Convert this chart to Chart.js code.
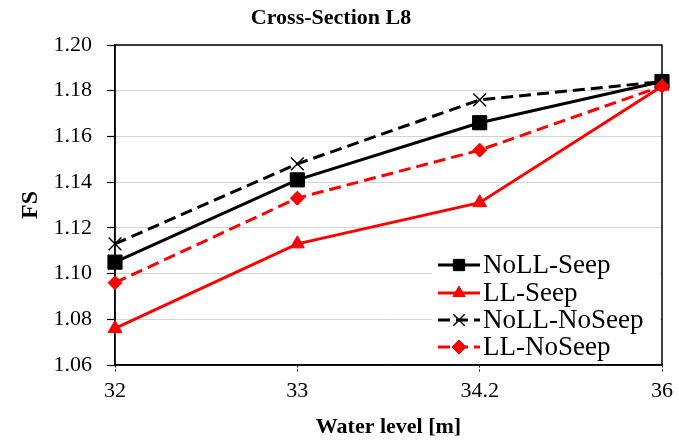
<!DOCTYPE html>
<html>
<head>
<meta charset="utf-8">
<script src="https://cdn.jsdelivr.net/npm/chart.js@4/dist/chart.umd.min.js"></script>
<style>
  html, body { margin: 0; padding: 0; background: #fff; }
  #wrap { width: 679px; height: 446px; }
</style>
</head>
<body>
<div id="wrap"><canvas id="c" width="679" height="446"></canvas></div>
<script>
const categories = ['32', '33', '34.2', '36'];
const noLLSeep = [1.105, 1.141, 1.166, 1.184];
const llSeep = [1.076, 1.113, 1.131, 1.182];
const noLLNoSeep = [1.113, 1.148, 1.176, 1.184];
const llNoSeep = [1.096, 1.133, 1.154, 1.182];
const seriesNames = ['NoLL-Seep', 'LL-Seep', 'NoLL-NoSeep', 'LL-NoSeep'];
const yTicks = [1.06, 1.08, 1.10, 1.12, 1.14, 1.16, 1.18, 1.20];

const FONT = '"Liberation Serif", "Times New Roman", serif';

const framePlugin = {
  id: 'frame',
  beforeDatasetsDraw(chart) {
    const {ctx, chartArea: a} = chart;
    ctx.save();
    ctx.strokeStyle = '#000';
    ctx.lineWidth = 1.5;
    ctx.strokeRect(a.left, a.top, a.right - a.left, a.bottom - a.top);
    ctx.restore();
  }
};

const legendPlugin = {
  id: 'insideLegend',
  afterDraw(chart) {
    const {ctx} = chart;
    const ds = chart.data.datasets;
    const boxL = 432, boxT = 250, boxR = 660, boxB = 362;
    ctx.save();
    ctx.fillStyle = '#fff';
    ctx.fillRect(boxL, boxT, boxR - boxL, boxB - boxT);
    const rowsY = [265, 293, 320, 347];
    const x0 = 438, x1 = 480;
    ds.forEach((d, i) => {
      const y = rowsY[i];
      ctx.save();
      ctx.strokeStyle = d.borderColor;
      ctx.lineWidth = d.borderWidth;
      ctx.setLineDash(d.borderDash || []);
      ctx.beginPath();
      ctx.moveTo(x0, y);
      ctx.lineTo(x1, y);
      ctx.stroke();
      ctx.setLineDash([]);
      ctx.fillStyle = d.pointBackgroundColor;
      ctx.strokeStyle = d.pointBorderColor;
      ctx.lineWidth = d.pointBorderWidth;
      Chart.helpers.drawPoint(ctx, {
        pointStyle: d.pointStyle,
        radius: d.legendRadius,
        rotation: 0,
        borderWidth: d.pointBorderWidth
      }, (x0 + x1) / 2, y);
      ctx.restore();
      ctx.fillStyle = '#000';
      ctx.font = '27px ' + FONT;
      ctx.textBaseline = 'middle';
      ctx.textAlign = 'left';
      ctx.fillText(d.label, 483, y + 1);
    });
    ctx.restore();
  }
};

new Chart(document.getElementById('c'), {
  type: 'line',
  data: {
    labels: categories,
    datasets: [
      {
        label: seriesNames[0], data: noLLSeep,
        borderColor: '#000', borderWidth: 3,
        pointStyle: 'rect', pointRadius: 10, legendRadius: 8,
        pointBackgroundColor: '#000', pointBorderColor: '#000', pointBorderWidth: 1,
        order: 4
      },
      {
        label: seriesNames[1], data: llSeep,
        borderColor: '#ff0000', borderWidth: 3,
        pointStyle: 'triangle', pointRadius: 8, legendRadius: 7,
        pointBackgroundColor: '#ff0000', pointBorderColor: '#ff0000', pointBorderWidth: 1,
        order: 3
      },
      {
        label: seriesNames[2], data: noLLNoSeep,
        borderColor: '#000', borderWidth: 3, borderDash: [12, 6],
        pointStyle: 'crossRot', pointRadius: 9, legendRadius: 8,
        pointBackgroundColor: '#000', pointBorderColor: '#000', pointBorderWidth: 1.5,
        order: 2
      },
      {
        label: seriesNames[3], data: llNoSeep,
        borderColor: '#ff0000', borderWidth: 3, borderDash: [12, 6],
        pointStyle: 'rectRot', pointRadius: 7, legendRadius: 7,
        pointBackgroundColor: '#ff0000', pointBorderColor: '#ff0000', pointBorderWidth: 1,
        order: 1
      }
    ]
  },
  options: {
    responsive: false,
    animation: false,
    layout: { padding: { left: 0, right: 17, top: 0, bottom: 0 } },
    plugins: {
      legend: { display: false },
      tooltip: { enabled: false },
      title: {
        display: true,
        text: 'Cross-Section L8',
        color: '#000',
        font: { family: FONT, size: 22, weight: 'bold', lineHeight: 1.2 },
        padding: { top: 5, bottom: 13.6 }
      }
    },
    scales: {
      x: {
        type: 'category',
        offset: false,
        afterFit(scale) { scale.height = 81; },
        grid: {
          display: true, drawOnChartArea: false, drawTicks: true,
          tickLength: 7, tickColor: '#000', tickBorderDash: [2, 2], tickWidth: 1
        },
        border: { display: true, color: '#000', width: 1.5 },
        ticks: {
          color: '#000', padding: 6,
          font: { family: FONT, size: 22 },
          maxRotation: 0, autoSkip: false
        },
        title: {
          display: true, text: 'Water level [m]', color: '#000',
          font: { family: FONT, size: 22, weight: 'bold', lineHeight: 1.2 },
          padding: { top: 0, bottom: 5 }
        }
      },
      y: {
        min: 1.06, max: 1.20,
        afterFit(scale) { scale.width = 115; },
        afterBuildTicks(scale) { scale.ticks = yTicks.map(v => ({ value: v })); },
        grid: {
          display: true, drawOnChartArea: true, drawTicks: true,
          color: '#d3d3d3', lineWidth: 1, borderDash: [5, 3],
          tickLength: 8, tickColor: '#000', tickBorderDash: [], tickWidth: 1.2
        },
        border: { display: true, color: '#000', width: 1.5 },
        ticks: {
          color: '#000', padding: 15,
          font: { family: FONT, size: 22 },
          callback: v => Number(v).toFixed(2)
        },
        title: {
          display: true, text: 'FS', color: '#000',
          font: { family: FONT, size: 24, weight: 'bold', lineHeight: 1.2 },
          padding: { top: 16, bottom: 0 }
        }
      }
    }
  },
  plugins: [framePlugin, legendPlugin]
});
</script>
</body>
</html>
